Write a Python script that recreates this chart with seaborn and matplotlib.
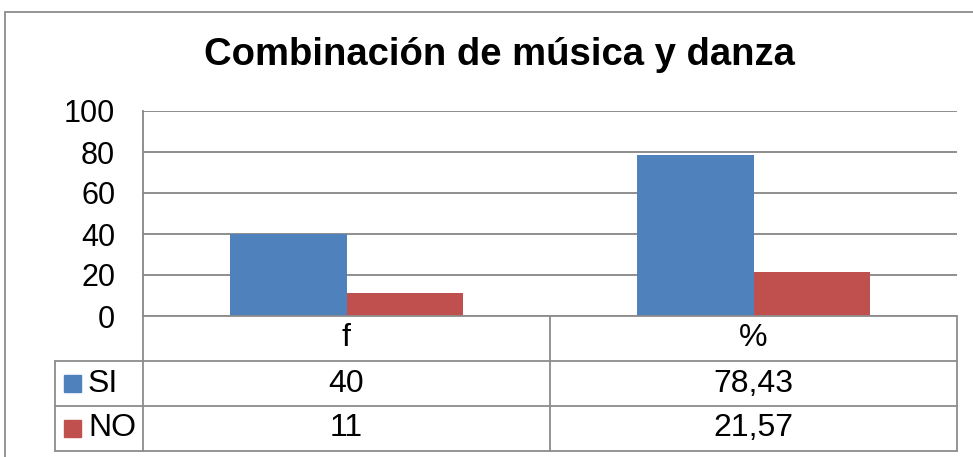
import matplotlib
matplotlib.use("Agg")
import matplotlib.pyplot as plt
import seaborn as sns
import pandas as pd
from matplotlib.lines import Line2D
from matplotlib.patches import Rectangle

# data
categories = ["f", "%"]
series_names = ["SI", "NO"]
si_values = [40, 78.43]
no_values = [11, 21.57]
si_labels = ["40", "78,43"]
no_labels = ["11", "21,57"]
title = "Combinación de música y danza"
colors = ["#4F81BD", "#C0504D"]

W, H = 973, 457
sns.set_theme(style="white")
plt.rcParams["font.family"] = ["Liberation Sans", "DejaVu Sans"]
plt.rcParams["text.color"] = "black"

df = pd.DataFrame({
    "cat": categories * 2,
    "serie": [series_names[0]] * 2 + [series_names[1]] * 2,
    "val": si_values + no_values,
})

fig = plt.figure(figsize=(W / 100, H / 100), dpi=100)

def px(x, y):
    return x / W, 1 - y / H

left, right, top, bottom = 143, 957, 111, 316
ax = fig.add_axes([left / W, 1 - bottom / H, (right - left) / W, (bottom - top) / H])
sns.barplot(data=df, x="cat", y="val", hue="serie", order=categories,
            hue_order=series_names, palette=colors, saturation=1,
            width=0.573, linewidth=0, ax=ax, legend=False)
ax.set_xlim(-0.5, 1.5)
ax.set_ylim(0, 100)
ax.set_yticks(range(0, 101, 20))
ax.yaxis.grid(True, color="#868686", linewidth=1.3)
ax.set_axisbelow(True)
ax.tick_params(axis="y", length=0, pad=20, labelsize=22, colors="black")
ax.set_xticks([])
ax.set_xlabel("")
ax.set_ylabel("")
for s in ["top", "right", "bottom"]:
    ax.spines[s].set_visible(False)
ax.spines["left"].set_color("#868686")
ax.spines["left"].set_linewidth(1.3)

# title
fig.text(*px(499, 55), title, ha="center", va="center", fontsize=27.5,
         fontweight="bold")

# outer chart border
fig.patches.append(Rectangle(px(5, 470), (990 - 5) / W, (470 - 12) / H,
                             transform=fig.transFigure, fill=False,
                             edgecolor="#8c8c8c", linewidth=1.3))

# data table
grid_c = "#8c8c8c"
mid = 550
rows = [361, 406, 451]
def hline(x0, x1, y):
    fig.lines.append(Line2D([x0 / W, x1 / W], [1 - y / H, 1 - y / H],
                            transform=fig.transFigure, color=grid_c, lw=1.3))
def vline(x, y0, y1):
    fig.lines.append(Line2D([x / W, x / W], [1 - y0 / H, 1 - y1 / H],
                            transform=fig.transFigure, color=grid_c, lw=1.3))

hline(left, right, bottom)
for y in rows:
    hline(55, right, y)
vline(left, bottom, rows[-1])
vline(mid, bottom, rows[-1])
vline(right, bottom, rows[-1])
vline(55, rows[0], rows[-1])

col_centers = [(left + mid) / 2, (mid + right) / 2]
for c, name in zip(col_centers, categories):
    fig.text(*px(c, (bottom + rows[0]) / 2), name, ha="center", va="center",
             fontsize=23)

row_vals = [si_labels, no_labels]
for i, name in enumerate(series_names):
    yc = (rows[i] + rows[i + 1]) / 2
    fig.patches.append(Rectangle(px(64, yc + 8.5), 17 / W, 17 / H,
                                 transform=fig.transFigure, color=colors[i]))
    fig.text(*px(88, yc), name, ha="left", va="center", fontsize=23)
    for c, v in zip(col_centers, row_vals[i]):
        fig.text(*px(c, yc), v, ha="center", va="center", fontsize=23)

fig.savefig("out.png", dpi=100)
